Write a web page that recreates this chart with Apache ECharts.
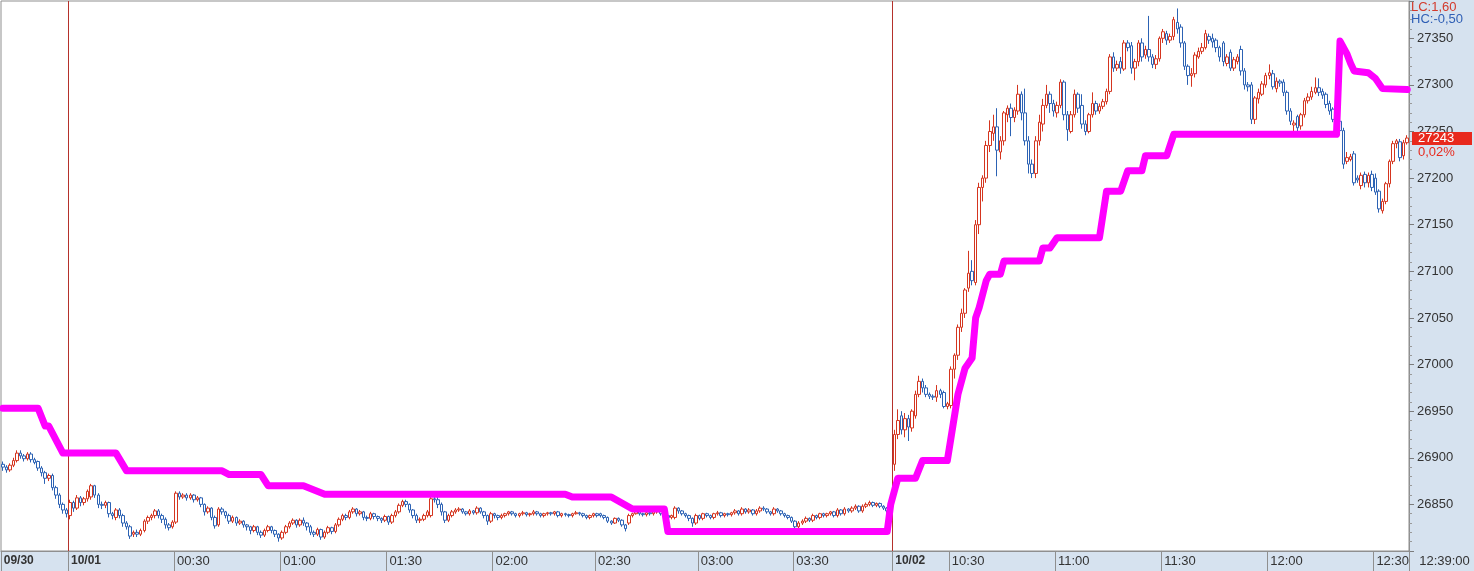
<!DOCTYPE html>
<html>
<head>
<meta charset="utf-8">
<title>chart</title>
<script src="https://cdn.jsdelivr.net/npm/echarts@6.0.0/dist/echarts.min.js"></script>
<style>
    html, body { margin: 0; padding: 0; background: #fff; }
    #chart { width: 1474px; height: 571px; }
</style>
</head>
<body>
<div id="chart"></div>
<script>
    // sessions: date label, first and last minute, minutes with no trades
    const sessionDates = ['09/30', '10/01', '10/02']
    const sessionSpans = [['23:41', '23:59'], ['00:00', '03:57'], ['10:14', '12:39']]
    const missingMinutes = ['02:13', '02:41', '03:07', '03:18', '03:22']

    // [open, close, low, high]
    const session1Bars = [
        [26893, 26890, 26886, 26896], [26890, 26887, 26884, 26892], [26887, 26892, 26885, 26894], [26892, 26897, 26890, 26900],
        [26897, 26905, 26895, 26908], [26905, 26902, 26899, 26908], [26902, 26899, 26896, 26904], [26899, 26904, 26897, 26906],
        [26904, 26898, 26895, 26906], [26898, 26895, 26893, 26900], [26896, 26889, 26886, 26897], [26889, 26884, 26880, 26891],
        [26884, 26878, 26872, 26886], [26878, 26881, 26875, 26883], [26881, 26868, 26865, 26883], [26868, 26860, 26856, 26870],
        [26860, 26850, 26846, 26862], [26850, 26844, 26840, 26852], [26844, 26840, 26836, 26846]
    ]

    const session2Bars = [
        [26838, 26852, 26834, 26855], [26852, 26846, 26842, 26854], [26846, 26857, 26844, 26860], [26857, 26852, 26848, 26859],
        [26852, 26856, 26849, 26858], [26856, 26864, 26853, 26866], [26858, 26870, 26855, 26872], [26870, 26860, 26857, 26871],
        [26860, 26850, 26846, 26862], [26850, 26849, 26845, 26853], [26849, 26852, 26846, 26854], [26852, 26840, 26836, 26853],
        [26840, 26838, 26834, 26842], [26836, 26844, 26833, 26846], [26844, 26838, 26835, 26846], [26838, 26830, 26826, 26840],
        [26830, 26826, 26823, 26832], [26826, 26816, 26813, 26828], [26818, 26820, 26815, 26822], [26820, 26818, 26815, 26823],
        [26818, 26822, 26816, 26824], [26822, 26832, 26820, 26834], [26832, 26836, 26829, 26838], [26836, 26838, 26833, 26840],
        [26838, 26843, 26835, 26845], [26843, 26838, 26835, 26845], [26838, 26834, 26830, 26840], [26834, 26828, 26824, 26836],
        [26828, 26825, 26822, 26830], [26826, 26831, 26824, 26833], [26831, 26862, 26829, 26864], [26862, 26858, 26855, 26864],
        [26858, 26860, 26856, 26862], [26860, 26857, 26854, 26862], [26857, 26860, 26855, 26862], [26860, 26855, 26852, 26861],
        [26855, 26857, 26853, 26859], [26857, 26850, 26847, 26858], [26850, 26842, 26838, 26851], [26842, 26846, 26840, 26848],
        [26846, 26836, 26833, 26847], [26836, 26827, 26824, 26838], [26828, 26845, 26826, 26847], [26845, 26842, 26839, 26847],
        [26842, 26838, 26835, 26843], [26838, 26832, 26829, 26840], [26832, 26836, 26830, 26838], [26836, 26830, 26827, 26837],
        [26830, 26832, 26828, 26834], [26832, 26828, 26825, 26833], [26828, 26826, 26822, 26829], [26826, 26822, 26818, 26827],
        [26822, 26826, 26820, 26828], [26826, 26820, 26817, 26827], [26820, 26817, 26814, 26822], [26817, 26822, 26815, 26824],
        [26822, 26826, 26820, 26828], [26826, 26822, 26819, 26827], [26822, 26818, 26815, 26823], [26818, 26814, 26810, 26819],
        [26814, 26820, 26812, 26822], [26820, 26826, 26818, 26828], [26826, 26830, 26824, 26832], [26830, 26833, 26828, 26835],
        [26833, 26828, 26825, 26834], [26828, 26833, 26826, 26835], [26833, 26830, 26827, 26836], [26830, 26826, 26822, 26831],
        [26826, 26820, 26817, 26828], [26820, 26818, 26815, 26822], [26818, 26823, 26816, 26825], [26823, 26815, 26812, 26824],
        [26815, 26820, 26813, 26822], [26820, 26825, 26818, 26827], [26825, 26821, 26818, 26826], [26821, 26828, 26819, 26830],
        [26828, 26834, 26826, 26836], [26834, 26838, 26832, 26840], [26838, 26836, 26833, 26840], [26836, 26842, 26834, 26844],
        [26842, 26845, 26840, 26847], [26845, 26840, 26837, 26846], [26840, 26842, 26838, 26844], [26842, 26836, 26833, 26843],
        [26836, 26835, 26832, 26838], [26835, 26840, 26833, 26842], [26840, 26837, 26834, 26841], [26837, 26835, 26832, 26838],
        [26835, 26833, 26830, 26836], [26833, 26837, 26831, 26839], [26837, 26831, 26828, 26838], [26831, 26838, 26829, 26840],
        [26838, 26842, 26836, 26844], [26842, 26849, 26840, 26851], [26849, 26853, 26847, 26855], [26853, 26850, 26847, 26855],
        [26850, 26844, 26841, 26851], [26844, 26838, 26835, 26845], [26838, 26833, 26830, 26840], [26833, 26834, 26830, 26836],
        [26834, 26838, 26832, 26840], [26838, 26842, 26836, 26844], [26838, 26856, 26836, 26858], [26856, 26855, 26852, 26860],
        [26855, 26850, 26846, 26858], [26850, 26842, 26838, 26852], [26842, 26833, 26830, 26843], [26833, 26838, 26831, 26840],
        [26838, 26842, 26836, 26844], [26842, 26844, 26840, 26846], [26844, 26845, 26842, 26847], [26845, 26842, 26840, 26846],
        [26842, 26840, 26838, 26843], [26840, 26843, 26838, 26845], [26843, 26841, 26839, 26844], [26841, 26846, 26839, 26848],
        [26846, 26842, 26840, 26847], [26842, 26838, 26835, 26843], [26838, 26832, 26828, 26839], [26832, 26840, 26830, 26842],
        [26840, 26838, 26835, 26841], [26838, 26836, 26833, 26839], [26836, 26838, 26834, 26840], [26838, 26840, 26836, 26841],
        [26840, 26842, 26838, 26843], [26842, 26840, 26838, 26843], [26840, 26838, 26836, 26841], [26838, 26840, 26836, 26841],
        [26840, 26841, 26838, 26843], [26841, 26839, 26837, 26842], [26839, 26840, 26837, 26841], [26840, 26842, 26838, 26844],
        [26842, 26840, 26838, 26843], [26840, 26838, 26836, 26841], [26838, 26840, 26836, 26841], [26840, 26841, 26838, 26842],
        [26841, 26840, 26838, 26842], [26840, 26842, 26838, 26843], [26842, 26838, 26836, 26843], [26838, 26840, 26836, 26841],
        [26840, 26839, 26837, 26841], [26839, 26838, 26836, 26840], [26838, 26840, 26836, 26841], [26840, 26841, 26839, 26843],
        [26841, 26840, 26838, 26842], [26840, 26838, 26836, 26841], [26838, 26836, 26834, 26839], [26836, 26838, 26834, 26839],
        [26838, 26840, 26836, 26841], [26840, 26838, 26836, 26841], [26840, 26838, 26836, 26841], [26838, 26836, 26834, 26839],
        [26836, 26832, 26830, 26837], [26832, 26830, 26828, 26833], [26830, 26835, 26829, 26836], [26835, 26833, 26831, 26836],
        [26833, 26828, 26826, 26834], [26828, 26824, 26821, 26829], [26830, 26838, 26828, 26840], [26838, 26840, 26836, 26841],
        [26840, 26842, 26839, 26843], [26842, 26840, 26838, 26843], [26840, 26839, 26837, 26841], [26839, 26841, 26837, 26842],
        [26841, 26840, 26838, 26842], [26840, 26842, 26838, 26843], [26842, 26843, 26840, 26845], [26843, 26840, 26838, 26844],
        [26840, 26838, 26836, 26841], [26838, 26836, 26834, 26839], [26836, 26838, 26834, 26839], [26836, 26846, 26834, 26848],
        [26846, 26843, 26840, 26847], [26843, 26840, 26838, 26844], [26840, 26838, 26836, 26841], [26838, 26835, 26832, 26839],
        [26835, 26830, 26826, 26836], [26830, 26838, 26828, 26840], [26838, 26835, 26833, 26839], [26835, 26840, 26833, 26841],
        [26840, 26838, 26836, 26841], [26838, 26836, 26834, 26839], [26836, 26840, 26834, 26841], [26840, 26841, 26838, 26843],
        [26841, 26838, 26836, 26842], [26838, 26840, 26836, 26841], [26840, 26839, 26837, 26841], [26839, 26841, 26837, 26842],
        [26841, 26843, 26839, 26845], [26843, 26840, 26838, 26844], [26840, 26845, 26838, 26847], [26845, 26842, 26840, 26846],
        [26842, 26844, 26840, 26846], [26844, 26840, 26838, 26845], [26840, 26843, 26838, 26845], [26843, 26846, 26841, 26848],
        [26846, 26845, 26843, 26848], [26845, 26842, 26840, 26846], [26842, 26840, 26838, 26843], [26840, 26845, 26838, 26847],
        [26845, 26843, 26841, 26846], [26843, 26840, 26838, 26844], [26840, 26838, 26836, 26841], [26838, 26836, 26834, 26839],
        [26836, 26832, 26830, 26837], [26832, 26826, 26823, 26833], [26826, 26830, 26824, 26832], [26830, 26832, 26828, 26834],
        [26832, 26835, 26830, 26837], [26835, 26833, 26831, 26836], [26833, 26838, 26831, 26840], [26838, 26836, 26834, 26839],
        [26836, 26840, 26834, 26841], [26840, 26838, 26836, 26841], [26838, 26840, 26836, 26841], [26840, 26842, 26838, 26843],
        [26842, 26838, 26836, 26843], [26838, 26844, 26836, 26846], [26844, 26840, 26838, 26845], [26840, 26845, 26838, 26847],
        [26845, 26843, 26841, 26846], [26843, 26846, 26841, 26848], [26846, 26848, 26844, 26850], [26848, 26843, 26841, 26849],
        [26843, 26848, 26841, 26850], [26848, 26850, 26846, 26852], [26850, 26852, 26848, 26854], [26852, 26849, 26847, 26853],
        [26849, 26851, 26847, 26852], [26851, 26848, 26846, 26852], [26848, 26846, 26844, 26849], [26846, 26843, 26841, 26847],
        [26843, 26833, 26830, 26845]
    ]

    const session3Bars = [
        [26893, 26925, 26886, 26930], [26925, 26940, 26920, 26952], [26945, 26930, 26925, 26950], [26930, 26942, 26922, 26948],
        [26942, 26933, 26918, 26946], [26932, 26950, 26928, 26952], [26945, 26968, 26942, 26972], [26968, 26982, 26965, 26988],
        [26982, 26975, 26970, 26985], [26975, 26968, 26965, 26978], [26968, 26966, 26963, 26970], [26966, 26965, 26962, 26968],
        [26965, 26972, 26960, 26978], [26972, 26968, 26964, 26974], [26970, 26955, 26953, 26972], [26955, 26958, 26952, 26960],
        [26956, 26995, 26953, 26998], [26995, 27010, 26985, 27012], [27010, 27040, 27005, 27043], [27040, 27055, 27035, 27060],
        [27055, 27080, 27050, 27082], [27082, 27098, 27078, 27122], [27100, 27090, 27085, 27112], [27088, 27150, 27085, 27155],
        [27150, 27190, 27140, 27195], [27190, 27200, 27175, 27203], [27200, 27235, 27195, 27240], [27235, 27250, 27228, 27262],
        [27248, 27255, 27240, 27268], [27255, 27230, 27202, 27275], [27228, 27240, 27220, 27245], [27240, 27270, 27235, 27272],
        [27268, 27275, 27260, 27278], [27275, 27265, 27245, 27280], [27265, 27273, 27260, 27276], [27272, 27290, 27268, 27300],
        [27290, 27270, 27262, 27293], [27270, 27240, 27235, 27296], [27240, 27215, 27205, 27245], [27215, 27205, 27200, 27220],
        [27205, 27240, 27200, 27245], [27240, 27260, 27235, 27268], [27258, 27278, 27250, 27285], [27278, 27290, 27275, 27300],
        [27290, 27280, 27270, 27293], [27280, 27272, 27266, 27284], [27270, 27278, 27265, 27282], [27278, 27303, 27275, 27306],
        [27303, 27268, 27262, 27305], [27268, 27252, 27240, 27272], [27250, 27268, 27248, 27272], [27268, 27290, 27265, 27295],
        [27290, 27275, 27270, 27292], [27278, 27258, 27253, 27290], [27258, 27250, 27246, 27262], [27250, 27268, 27248, 27270],
        [27268, 27280, 27265, 27292], [27280, 27272, 27268, 27283], [27272, 27277, 27269, 27280], [27277, 27282, 27274, 27285],
        [27282, 27293, 27279, 27296], [27293, 27330, 27290, 27333], [27330, 27318, 27314, 27335], [27318, 27322, 27315, 27326],
        [27325, 27318, 27312, 27330], [27317, 27345, 27315, 27348], [27345, 27340, 27336, 27348], [27342, 27318, 27312, 27346],
        [27318, 27325, 27305, 27328], [27325, 27345, 27320, 27348], [27345, 27330, 27325, 27350], [27332, 27338, 27328, 27342],
        [27338, 27330, 27325, 27374], [27330, 27322, 27318, 27333], [27322, 27328, 27317, 27332], [27328, 27350, 27325, 27352],
        [27350, 27357, 27345, 27360], [27355, 27348, 27343, 27358], [27348, 27352, 27345, 27355], [27352, 27370, 27348, 27373],
        [27367, 27360, 27355, 27382], [27362, 27345, 27340, 27365], [27345, 27320, 27316, 27347], [27320, 27310, 27300, 27322],
        [27310, 27312, 27298, 27318], [27312, 27332, 27308, 27335], [27330, 27336, 27328, 27340], [27336, 27340, 27333, 27345],
        [27340, 27355, 27338, 27359], [27352, 27348, 27344, 27355], [27350, 27346, 27340, 27355], [27348, 27340, 27335, 27350],
        [27340, 27330, 27325, 27342], [27345, 27325, 27320, 27347], [27323, 27330, 27320, 27333], [27335, 27318, 27315, 27338],
        [27318, 27327, 27315, 27330], [27325, 27330, 27322, 27333], [27338, 27315, 27310, 27342], [27315, 27300, 27295, 27318],
        [27300, 27298, 27293, 27303], [27300, 27263, 27258, 27303], [27263, 27286, 27258, 27288], [27285, 27292, 27280, 27296],
        [27290, 27301, 27288, 27304], [27300, 27310, 27297, 27313], [27310, 27313, 27306, 27322], [27312, 27298, 27295, 27316],
        [27296, 27304, 27292, 27308], [27304, 27302, 27298, 27306], [27303, 27292, 27288, 27306], [27292, 27272, 27268, 27294],
        [27272, 27261, 27257, 27275], [27257, 27259, 27250, 27262], [27266, 27254, 27250, 27268], [27256, 27268, 27252, 27270],
        [27268, 27283, 27265, 27286], [27283, 27287, 27280, 27291], [27287, 27293, 27284, 27298], [27292, 27297, 27290, 27308],
        [27297, 27292, 27288, 27307], [27293, 27289, 27285, 27296], [27290, 27279, 27275, 27292], [27280, 27272, 27268, 27283],
        [27274, 27263, 27260, 27276], [27266, 27261, 27257, 27268], [27261, 27251, 27246, 27263], [27251, 27215, 27210, 27254],
        [27218, 27222, 27215, 27228], [27220, 27223, 27218, 27226], [27226, 27195, 27192, 27229], [27200, 27198, 27195, 27203],
        [27192, 27203, 27188, 27206], [27204, 27195, 27190, 27207], [27195, 27203, 27190, 27206], [27204, 27190, 27186, 27208],
        [27200, 27185, 27182, 27205], [27186, 27167, 27163, 27188], [27165, 27175, 27162, 27178], [27175, 27194, 27172, 27196],
        [27194, 27218, 27190, 27220], [27218, 27237, 27215, 27240], [27237, 27240, 27232, 27242], [27239, 27222, 27218, 27242],
        [27224, 27238, 27220, 27241], [27238, 27243, 27236, 27246]
    ]

    // magenta stop line, corners as [bar index, price]
    const stopLine = [
        [0, 26953], [10, 26953], [12, 26934], [13, 26934], [17, 26905], [32, 26905], [35, 26886], [62, 26886],
        [64, 26882], [73, 26882], [75, 26870], [85, 26870], [91, 26861], [159, 26861], [161, 26858], [172, 26858],
        [178, 26845], [187, 26845], [188, 26821], [250, 26821], [251, 26850], [253, 26878],
        [258, 26878], [260, 26897], [267, 26897], [270, 26968], [272, 26996], [274, 27007], [275, 27050], [276, 27061],
        [278, 27090], [279, 27097], [282, 27097], [283, 27111], [293, 27111], [294, 27125], [296, 27125], [298, 27136],
        [310, 27136], [312, 27186], [316, 27186], [318, 27208], [322, 27208], [323, 27224], [329, 27224], [331, 27247],
        [377, 27247], [378, 27347], [380, 27333], [381, 27323], [382, 27315], [386, 27313], [388, 27307], [390, 27296],
        [397, 27295]
    ]

    const lastChange = '0,02%'
    const lcText = 'LC:1,60'
    const hcText = 'HC:-0,50'

    const narrow = '"Liberation Sans Narrow", "Liberation Sans", Arial, sans-serif'
    const upColor = '#d5351f'
    const downColor = '#2c62b4'

    function toMinutes (t) {
        const p = t.split(':')
        return +p[0] * 60 + +p[1]
    }
    function pad (n) {
        return (n < 10 ? '0' : '') + n
    }

    const categories = []
    const sessionStarts = []
    sessionSpans.forEach(function (span, s) {
        sessionStarts.push(categories.length)
        for (let m = toMinutes(span[0]); m <= toMinutes(span[1]); m++) {
            const hm = pad(Math.floor(m / 60)) + ':' + pad(m % 60)
            if (s === 1 && missingMinutes.indexOf(hm) > -1) continue
            categories.push(sessionDates[s] + ' ' + hm)
        }
    })
    const bars = session1Bars.concat(session2Bars, session3Bars)
    const lastIndex = categories.length - 1
    const lastClose = bars[bars.length - 1][1]

    function isMarked (index) {
        if (sessionStarts.indexOf(index) > -1) return true
        const mm = categories[index].slice(-2)
        return mm === '00' || mm === '30'
    }

    const chart = echarts.init(document.getElementById('chart'))
    chart.setOption({
        animation: false,
        backgroundColor: '#ffffff',
        grid: {
            left: 1,
            right: 65,
            top: 1,
            bottom: 20,
            show: true,
            backgroundColor: '#ffffff',
            borderColor: '#8f8f8f',
            borderWidth: 1
        },
        xAxis: {
            type: 'category',
            data: categories,
            boundaryGap: true,
            axisLine: { show: true, lineStyle: { color: '#8f8f8f' } },
            axisTick: {
                show: true,
                length: 20,
                interval: function (index) { return index !== lastIndex && isMarked(index) },
                lineStyle: { color: '#8f8f8f' }
            },
            splitLine: {
                show: true,
                interval: function (index) { return index > 0 && sessionStarts.indexOf(index) > -1 },
                lineStyle: { color: '#b5312b', width: 1 }
            },
            axisLabel: {
                interval: function (index) { return index === lastIndex || isMarked(index) },
                align: 'left',
                margin: 4,
                formatter: function (value, index) {
                    const hm = value.slice(-5)
                    if (index === lastIndex) return '{e|' + hm + ':00}'
                    if (sessionStarts.indexOf(index) > -1) return '{d|' + value.slice(0, 5) + '}'
                    return '{t|' + hm + '}'
                },
                rich: {
                    t: { fontFamily: narrow, fontSize: 13, color: '#333333', padding: [0, 0, 0, 1] },
                    d: { fontFamily: '"Liberation Sans", Arial, sans-serif', fontSize: 12, fontWeight: 'bold', color: '#333333', padding: [0, 0, 0, 1] },
                    e: { fontFamily: narrow, fontSize: 13, color: '#333333', padding: [0, 0, 0, 12] }
                }
            }
        },
        yAxis: {
            type: 'value',
            position: 'right',
            scale: true,
            min: 26800,
            max: 27390,
            interval: 50,
            axisLine: { show: true, lineStyle: { color: '#8f8f8f' } },
            axisTick: { show: true, length: 5, lineStyle: { color: '#7c7c7c' } },
            minorTick: { show: true, splitNumber: 5, length: 3, lineStyle: { color: '#9a9a9a' } },
            splitLine: { show: false },
            axisLabel: {
                showMinLabel: false,
                showMaxLabel: false,
                margin: 8,
                fontFamily: narrow,
                fontSize: 13,
                color: '#333333',
                formatter: function (v) { return String(v) }
            }
        },
        series: [
            {
                type: 'candlestick',
                data: bars,
                barWidth: 3,
                z: 3,
                itemStyle: {
                    color: '#ffffff',
                    color0: '#ffffff',
                    borderColor: upColor,
                    borderColor0: downColor,
                    borderColorDoji: downColor,
                    borderWidth: 1
                }
            },
            {
                type: 'line',
                data: stopLine,
                showSymbol: false,
                symbol: 'none',
                z: 5,
                lineStyle: { color: '#ff00ff', width: 7, cap: 'round', join: 'round' }
            }
        ]
    })

    const panelX = 1474 - 65
    const tagY = chart.convertToPixel({ yAxisIndex: 0 }, lastClose)
    chart.setOption({
        graphic: { elements: [
            { type: 'rect', z: -10, silent: true, shape: { x: panelX, y: 0, width: 1474 - panelX, height: 571 }, style: { fill: '#d6e2ef' } },
            { type: 'rect', z: -10, silent: true, shape: { x: 0, y: 551, width: 1474, height: 20 }, style: { fill: '#d6e2ef' } },
            { type: 'line', z: 10, silent: true, shape: { x1: panelX + 0.5, y1: 551, x2: panelX + 0.5, y2: 571 }, style: { stroke: '#8f8f8f', lineWidth: 1 } },
            { type: 'text', z: 10, x: panelX + 2, y: 1, style: { text: lcText, fill: '#d33a2c', font: '13px ' + narrow } },
            { type: 'text', z: 10, x: panelX + 2, y: 13, style: { text: hcText, fill: '#2f5fb5', font: '13px ' + narrow } },
            { type: 'rect', z: 20, silent: true, shape: { x: panelX + 3, y: Math.round(tagY) - 6, width: 1474 - panelX - 5, height: 13 }, style: { fill: '#e8291d' } },
            { type: 'text', z: 21, x: panelX + 9, y: tagY, style: { text: String(lastClose), fill: '#ffffff', font: '13px ' + narrow, verticalAlign: 'middle' } },
            { type: 'text', z: 21, x: panelX + 9, y: tagY + 14, style: { text: lastChange, fill: '#e8291d', font: '13px ' + narrow, verticalAlign: 'middle' } }
        ] }
    })
</script>
</body>
</html>
